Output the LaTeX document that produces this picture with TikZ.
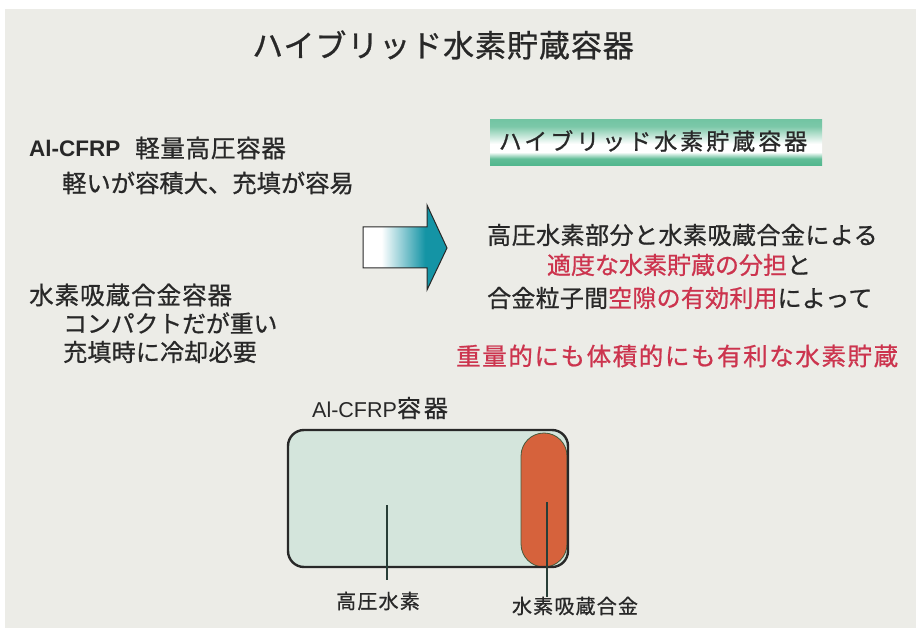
\documentclass[tikz,border=0pt]{standalone}
\usepackage{fontspec}
\setmainfont{Liberation Sans}
\newfontfamily\jp{Noto Sans CJK JP}
\usetikzlibrary{calc}
\definecolor{bg}{RGB}{236,236,231}
\definecolor{ink}{RGB}{40,40,40}
\definecolor{accent}{RGB}{204,52,78}
\definecolor{bgreen}{RGB}{80,182,140}
\definecolor{arrowteal}{RGB}{20,148,165}
\definecolor{alloy}{RGB}{214,98,60}
\definecolor{alloyedge}{RGB}{70,90,60}
\definecolor{gasfill}{RGB}{212,229,220}
\definecolor{leader}{RGB}{40,62,55}
\newcommand\jpt[2]{\fontsize{#1}{#1}\jp\addfontfeatures{LetterSpace=#2,FakeBold=0.8}\selectfont}
\newcommand\red[1]{\textcolor{accent}{#1}}
\pgfdeclarehorizontalshading{arrowshade}{100bp}{color(0bp)=(white); color(36bp)=(white); color(62bp)=(arrowteal); color(100bp)=(arrowteal)}
\pgfdeclareverticalshading{bannershade}{100bp}{color(0bp)=(bgreen); color(25bp)=(bgreen); color(33bp)=(bgreen!90); color(40bp)=(white); color(49bp)=(white); color(68bp)=(bgreen!75); color(75bp)=(bgreen!80); color(100bp)=(bgreen!80)}
\tikzset{
  txt/.style={inner sep=0pt, text=ink, anchor=west},
  ctxt/.style={inner sep=0pt, text=ink, anchor=center},
  leaderline/.style={draw=leader, line width=1.6pt},
}
\begin{document}
\begin{tikzpicture}[x=1pt,y=-1pt]
\useasboundingbox (0,0) rectangle (916,628);
\fill[bg] (5,9) rectangle (916,628);
% title
\node[ctxt] (title) at (443,45) {\jpt{31}{3}ハイブリッド水素貯蔵容器};
% banner
\path[shading=bannershade] (490,120) rectangle (822,166);
\node[ctxt] (banner) at (653,141) {\jpt{23}{13}ハイブリッド水素貯蔵容器};
% left texts
\node[txt] (a1) at (29,148) {\fontsize{22.5}{22.5}\selectfont\bfseries Al-CFRP};
\node[txt] (a1j) at (135,148) {\jpt{24.5}{3}軽量高圧容器};
\node[txt] (a2) at (62,183) {\jpt{24.3}{0}軽いが容積大、充填が容易};
\node[txt] (b1) at (29,295) {\jpt{24.5}{4}水素吸蔵合金容器};
\node[txt] (b2) at (63,323) {\jpt{23.8}{0}コンパクトだが重い};
\node[txt] (b3) at (63,352) {\jpt{24}{1}充填時に冷却必要};
% arrow
\path[draw=ink, line width=1pt, shading=arrowshade]
  (363,227) -- (427,227) -- (427,205) -- (447,248) -- (427,290) -- (427,268) -- (363,268) -- cycle;
% right texts
\node[txt] (r1) at (487,235) {\jpt{24}{2}高圧水素部分と水素吸蔵合金による};
\node[ctxt] (r2) at (679,265) {\jpt{24}{0}\red{適度な水素貯蔵の分担}と};
\node[txt] (r3) at (487,298) {\jpt{24}{1}合金粒子間\red{空隙の有効利用}によって};
\node[txt, text=accent] (r4) at (456,356) {\jpt{24.5}{6.5}重量的にも体積的にも有利な水素貯蔵};
% container
\node[txt] (tanklbl) at (312,408) {\fontsize{21.5}{21.5}\selectfont Al-CFRP{\jpt{24}{12}容器}};
\fill[gasfill, rounded corners=16pt] (288,430) rectangle (568,567);
\filldraw[fill=alloy, draw=alloyedge, line width=0.8pt, rounded corners=23pt] (521,433) rectangle (567,567);
\draw[ink, line width=2.4pt, rounded corners=16pt] (288,430) rectangle (568,567);
% labels and leaders
\node[ctxt] (lh2) at (378,601) {\jpt{20}{6}高圧水素};
\node[ctxt] (lalloy) at (575,606) {\jpt{20}{6}水素吸蔵合金};
\coordinate (h2in) at (387,505);
\coordinate (h2end) at (387,580);
\coordinate (alin) at (547,502);
\coordinate (alend) at (547,597);
\draw[leaderline] (h2in) -- (h2end);
\draw[leaderline] (alin) -- (alend);
\end{tikzpicture}
\end{document}
